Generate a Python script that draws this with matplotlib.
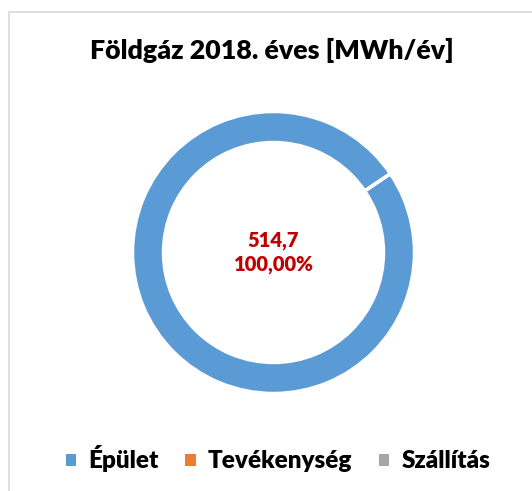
import matplotlib.pyplot as plt
from matplotlib.patches import Rectangle, Patch

categories = ["Épület", "Tevékenység", "Szállítás"]
values = [514.7, 0.0, 0.0]
colors = ["#5B9BD5", "#ED7D31", "#A5A5A5"]
title = "Földgáz 2018. éves [MWh/év]"

total = sum(values)
center_text = f"{values[0]:.1f}".replace(".", ",") + "\n" + \
    f"{values[0] / total * 100:.2f}%".replace(".", ",")

plt.rcParams['font.family'] = ['Lato', 'DejaVu Sans']

W, H = 532, 491
fig = plt.figure(figsize=(W / 100, H / 100), dpi=100)

# keret
fig.patches.append(Rectangle((9 / W, -0.1), 1.2, 1 - 12 / H + 0.1,
                             transform=fig.transFigure, fill=False,
                             edgecolor="#D9D9D9", linewidth=1.2))

cx, cy, r = 273.5, 252.5, 141
ax = fig.add_axes([(cx - r) / W, (H - cy - r) / H, 2 * r / W, 2 * r / H])
ax.pie(values, colors=colors, startangle=34, counterclock=False, radius=1,
       wedgeprops=dict(width=0.22, edgecolor="white", linewidth=2.5))
ax.set_xlim(-1, 1)
ax.set_ylim(-1, 1)
ax.set_aspect("equal")
ax.axis("off")

ax.text(0, 0.0, center_text, ha="center", va="center", color="#C00000",
        fontsize=14.5, fontweight="heavy", linespacing=1.25)

fig.text(272 / W, 1 - 50 / H, title, ha="center", va="center",
         fontsize=19.3, fontweight="heavy", color="black")

handles = [Patch(facecolor=c, edgecolor="none") for c in colors]
fig.legend(handles, categories, loc="center", bbox_to_anchor=(278 / W, 1 - 459 / H),
           ncol=3, frameon=False, prop=dict(size=17.5, weight="heavy"),
           handlelength=0.42, handleheight=0.42, handletextpad=0.5, columnspacing=1.1)

fig.savefig("out.png", dpi=100)
